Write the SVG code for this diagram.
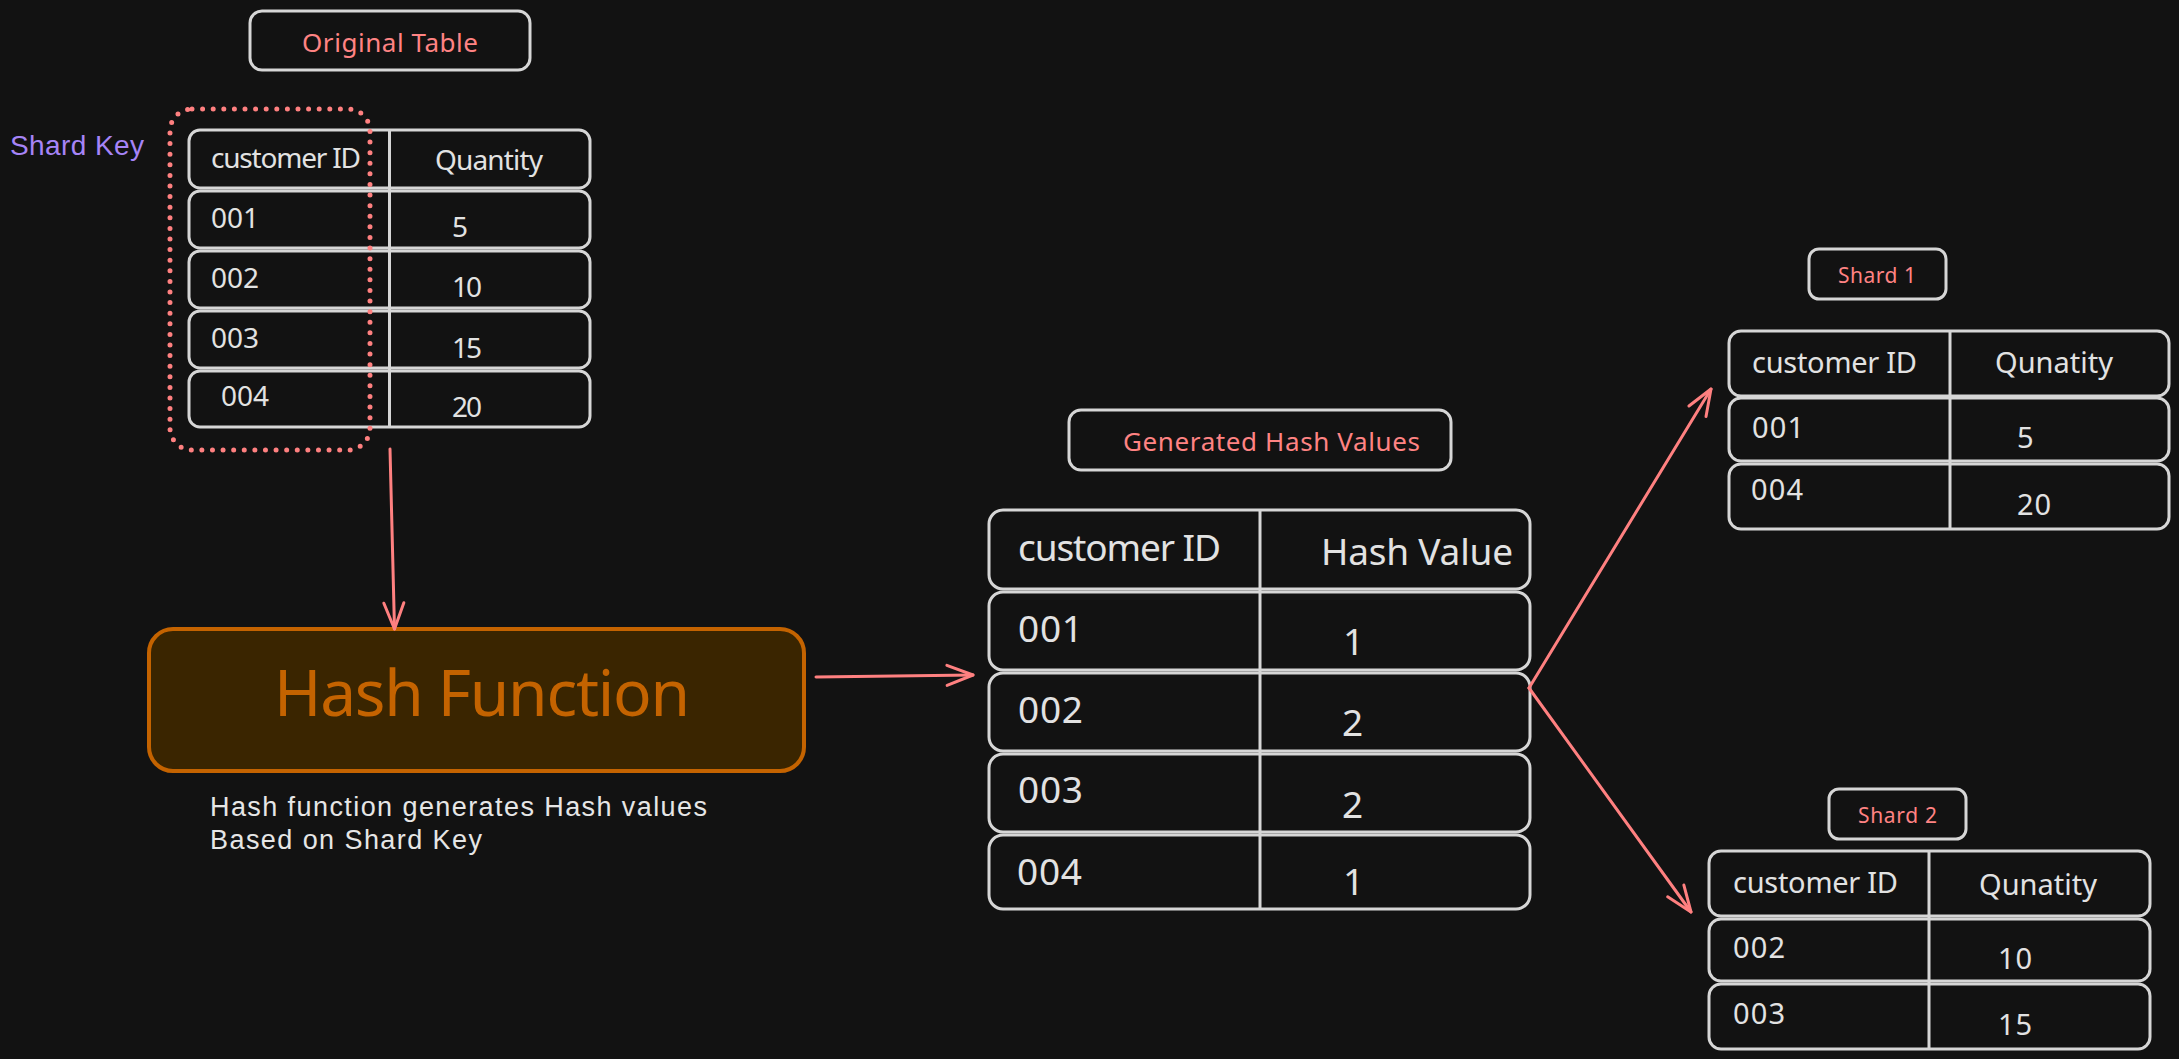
<svg xmlns="http://www.w3.org/2000/svg" width="2179" height="1059" viewBox="0 0 2179 1059">
<defs>
<style>
.cell{fill:#121212;stroke:#d6d6d6;stroke-width:3}
.div{stroke:#d6d6d6;stroke-width:3}
.t{font-family:"Noto Sans","Open Sans",sans-serif;fill:#e2e2e2}
.lbl{font-family:"Noto Sans","Open Sans",sans-serif;fill:#ff8383}
.hand{font-family:"Liberation Sans","DejaVu Sans",sans-serif}
.conn{stroke:#ff8080;stroke-width:3;fill:none;stroke-linecap:round}
</style>
<marker id="ah" viewBox="0 0 40 30" refX="30" refY="15" markerWidth="40" markerHeight="30" markerUnits="userSpaceOnUse" orient="auto" overflow="visible">
<path d="M4,5 L30,15 L4,25" fill="none" stroke="#ff8080" stroke-width="3" stroke-linecap="round" stroke-linejoin="round"/>
</marker>
</defs>
<rect width="2179" height="1059" fill="#121212"/>

<g id="label-original">
<rect x="250" y="11" width="280" height="59" rx="12" fill="none" stroke="#d6d6d6" stroke-width="3"/>
<text class="lbl" x="390" y="52" font-size="26" text-anchor="middle" textLength="176">Original Table</text>
</g>

<g id="shard-key-label">
<text class="hand" x="10" y="155" font-size="28" fill="#a684f7" textLength="134">Shard Key</text>
</g>

<g id="original-table">
<rect class="cell" x="189" y="130" width="401" height="58" rx="11"/>
<rect class="cell" x="189" y="191" width="401" height="57" rx="11"/>
<rect class="cell" x="189" y="251" width="401" height="57" rx="11"/>
<rect class="cell" x="189" y="311" width="401" height="57" rx="11"/>
<rect class="cell" x="189" y="371" width="401" height="56" rx="11"/>
<line class="div" x1="389.5" y1="130" x2="389.5" y2="427"/>
<g class="t" font-size="28">
<text x="211" y="168" textLength="150">customer ID</text>
<text x="435" y="170" textLength="108">Quantity</text>
<text x="211" y="228" textLength="48">001</text>
<text x="452" y="237">5</text>
<text x="211" y="288" textLength="48">002</text>
<text x="452" y="297" textLength="30">10</text>
<text x="211" y="348" textLength="48">003</text>
<text x="452" y="358" textLength="30">15</text>
<text x="221" y="406" textLength="48">004</text>
<text x="452" y="417" textLength="30">20</text>
</g>
</g>

<g id="shard-key-outline">
<rect x="170" y="109" width="200" height="341" rx="22" fill="none" stroke="#ff8080" stroke-width="5" stroke-linecap="round" stroke-dasharray="0 10.6"/>
</g>

<g id="hash-function">
<rect x="149" y="629" width="655" height="142" rx="24" fill="#3a2500" stroke="#c46300" stroke-width="4"/>
<text x="274" y="716" font-size="64" fill="#c46300" font-family="Noto Sans, Open Sans, sans-serif" textLength="416">Hash Function</text>
</g>

<g id="hash-note" class="hand" fill="#e6e6e6" font-size="27">
<text x="210" y="816" textLength="497">Hash function generates Hash values</text>
<text x="210" y="849" textLength="272">Based on Shard Key</text>
</g>

<g id="label-generated">
<rect x="1069" y="410" width="382" height="60" rx="12" fill="none" stroke="#d6d6d6" stroke-width="3"/>
<text class="lbl" x="1123" y="451" font-size="26" textLength="297">Generated Hash Values</text>
</g>

<g id="hash-table">
<rect class="cell" x="989" y="510" width="541" height="79" rx="14"/>
<rect class="cell" x="989" y="592" width="541" height="78" rx="14"/>
<rect class="cell" x="989" y="673" width="541" height="78" rx="14"/>
<rect class="cell" x="989" y="754" width="541" height="78" rx="14"/>
<rect class="cell" x="989" y="835" width="541" height="74" rx="14"/>
<line class="div" x1="1260" y1="510" x2="1260" y2="909"/>
<g class="t" font-size="37">
<text x="1018" y="561" textLength="203">customer ID</text>
<text x="1321" y="565" textLength="192">Hash Value</text>
<text x="1018" y="642" textLength="65">001</text>
<text x="1343" y="655">1</text>
<text x="1018" y="723" textLength="65">002</text>
<text x="1342" y="736">2</text>
<text x="1018" y="803" textLength="65">003</text>
<text x="1342" y="818">2</text>
<text x="1017" y="885" textLength="65">004</text>
<text x="1343" y="895">1</text>
</g>
</g>

<g id="label-shard1">
<rect x="1809" y="249" width="137" height="50" rx="10" fill="none" stroke="#d6d6d6" stroke-width="3"/>
<text class="lbl" x="1838" y="283" font-size="21" textLength="78">Shard 1</text>
</g>

<g id="shard1-table">
<rect class="cell" x="1729" y="331" width="440" height="65" rx="12"/>
<rect class="cell" x="1729" y="398" width="440" height="63" rx="12"/>
<rect class="cell" x="1729" y="464" width="440" height="65" rx="12"/>
<line class="div" x1="1950" y1="331" x2="1950" y2="529"/>
<g class="t" font-size="29">
<text x="1752" y="373" textLength="165">customer ID</text>
<text x="1995" y="373" textLength="118">Qunatity</text>
<text x="1752" y="438" textLength="52">001</text>
<text x="2017" y="448">5</text>
<text x="1751" y="500" textLength="52">004</text>
<text x="2017" y="515" textLength="34">20</text>
</g>
</g>

<g id="label-shard2">
<rect x="1829" y="789" width="137" height="50" rx="10" fill="none" stroke="#d6d6d6" stroke-width="3"/>
<text class="lbl" x="1858" y="823" font-size="21" textLength="79">Shard 2</text>
</g>

<g id="shard2-table">
<rect class="cell" x="1709" y="851" width="441" height="65" rx="12"/>
<rect class="cell" x="1709" y="919" width="441" height="62" rx="12"/>
<rect class="cell" x="1709" y="984" width="441" height="65" rx="12"/>
<line class="div" x1="1929" y1="851" x2="1929" y2="1049"/>
<g class="t" font-size="29">
<text x="1733" y="893" textLength="165">customer ID</text>
<text x="1979" y="895" textLength="118">Qunatity</text>
<text x="1733" y="958" textLength="52">002</text>
<text x="1998" y="969" textLength="34">10</text>
<text x="1733" y="1024" textLength="52">003</text>
<text x="1998" y="1035" textLength="34">15</text>
</g>
</g>

<g id="connectors">
<path class="conn" d="M390,449 L394.5,629" marker-end="url(#ah)"/>
<path class="conn" d="M816,677 L973,675" marker-end="url(#ah)"/>
<path class="conn" d="M1529,688 L1711,389" marker-end="url(#ah)"/>
<path class="conn" d="M1529,688 L1691,912" marker-end="url(#ah)"/>
</g>
</svg>
